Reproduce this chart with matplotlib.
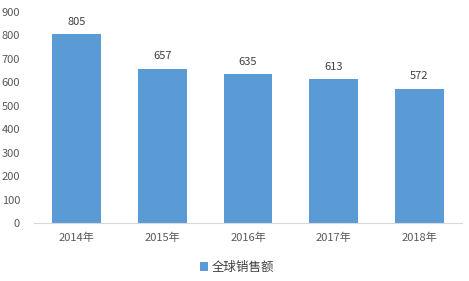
import matplotlib
matplotlib.use('Agg')
import matplotlib.pyplot as plt

plt.rcParams['font.family'] = ['Noto Sans CJK SC', 'DejaVu Sans']

years = ['2014年', '2015年', '2016年', '2017年', '2018年']
sales = [805, 657, 635, 613, 572]
yticks = [0, 100, 200, 300, 400, 500, 600, 700, 800, 900]

fig = plt.figure(figsize=(4.69, 2.81), dpi=100)
ax = fig.add_axes([34/469, 1 - 223/281, (462 - 34)/469, (223 - 12)/281])

bars = ax.bar(range(len(years)), sales, width=0.57, color='#5b9bd5', label='全球销售额')
for i, v in enumerate(sales):
    ax.text(i, v + 32, str(v), ha='center', va='bottom', fontsize=8, color='#404040')

ax.set_ylim(0, 900)
ax.set_xlim(-0.5, len(years) - 0.5)
ax.set_yticks(yticks)
ax.set_xticks(range(len(years)))
ax.set_xticklabels(years)
ax.tick_params(axis='both', length=0, labelsize=8, colors='#595959')
ax.tick_params(axis='y', pad=10)
ax.tick_params(axis='x', pad=7)
for s in ['top', 'right', 'left']:
    ax.spines[s].set_visible(False)
ax.spines['bottom'].set_color('#d9d9d9')

fig.legend(handles=[bars], loc='center', bbox_to_anchor=(237/469, 1 - 267/281),
           frameon=False, fontsize=9, handlelength=0.7, handleheight=0.7,
           handletextpad=0.3, labelcolor='#404040')

fig.savefig('out.png', dpi=100)
